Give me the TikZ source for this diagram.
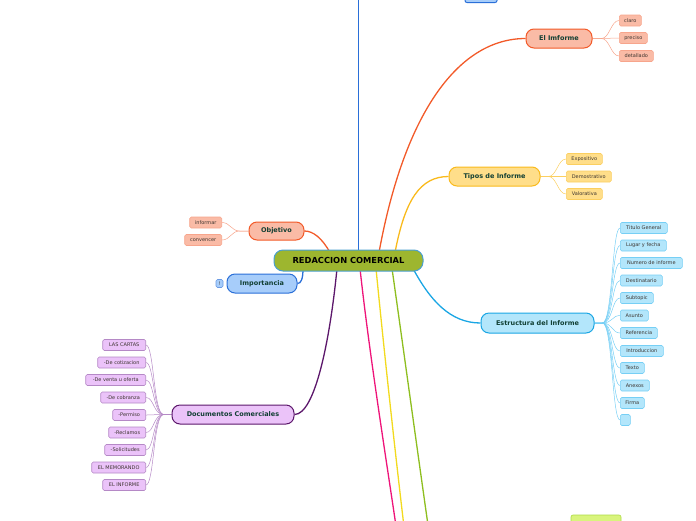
\documentclass[tikz,border=0pt]{standalone}
\usepackage{fontspec}
\setmainfont{DejaVu Sans}
\usetikzlibrary{backgrounds,calc}
\definecolor{rootfill}{HTML}{9DB62F}
\definecolor{rootline}{HTML}{4A9FCF}
\definecolor{txtgreen}{HTML}{113F33}
\definecolor{leaftxt}{HTML}{3D3530}
\definecolor{orline}{HTML}{F25A29}
\definecolor{orfill}{HTML}{FABBA6}
\definecolor{orleaf}{HTML}{F7A58C}
\definecolor{yeline}{HTML}{F9BA1C}
\definecolor{yefill}{HTML}{FFDE8A}
\definecolor{yeleaf}{HTML}{FBCF60}
\definecolor{cyline}{HTML}{1AA6E4}
\definecolor{cyfill}{HTML}{B3E6FB}
\definecolor{cyleaf}{HTML}{76CFF5}
\definecolor{puline}{HTML}{5C176B}
\definecolor{pufill}{HTML}{EBC3F9}
\definecolor{puleaf}{HTML}{B589C6}
\definecolor{blline}{HTML}{2A6FD8}
\definecolor{blfill}{HTML}{A7CDFA}
\definecolor{grline}{HTML}{8EBE1F}
\definecolor{pkline}{HTML}{EE1479}
\definecolor{yetwo}{HTML}{F2DA1E}
\definecolor{grfill}{HTML}{D9F47D}
\definecolor{grleaf}{HTML}{AEDB45}
\begin{document}
\begin{tikzpicture}[x=1pt,y=-1pt,
  rootbox/.style={draw=rootline, fill=rootfill, line width=1pt, rounded corners=9pt, inner sep=0pt, minimum height=21pt, font=\fontsize{8.3}{9}\selectfont\bfseries},
  topicbox/.style={line width=1pt, rounded corners=8pt, inner sep=0pt, minimum height=19pt, text=txtgreen, font=\fontsize{6.5}{7}\selectfont\bfseries},
  leafbox/.style={line width=0.6pt, rounded corners=1.5pt, inner sep=0pt, minimum height=11pt, text=leaftxt, font=\fontsize{5}{5.5}\selectfont},
  branch/.style={line width=1.3pt},
  twig/.style={line width=0.5pt}]
\useasboundingbox (0,0) rectangle (696,520);
\clip (0,0) rectangle (696,520);
% centre
\node[rootbox, minimum width=149pt] (root) at (348.5,260.5) {REDACCION COMERCIAL};
% main topics
\node[topicbox, draw=orline, fill=orfill, minimum width=66pt] (imforme) at (559,38.5) {El Imforme};
\node[topicbox, draw=yeline, fill=yefill, minimum width=91pt] (tipos) at (494.5,176.5) {Tipos de Informe};
\node[topicbox, draw=cyline, fill=cyfill, minimum width=113pt, minimum height=20pt] (estructura) at (537.5,323) {Estructura del Informe};
\node[topicbox, draw=orline, fill=orfill, minimum width=55pt, minimum height=18pt] (objetivo) at (276.5,231) {Objetivo};
\node[topicbox, draw=blline, fill=blfill, minimum width=70pt] (importancia) at (262,283.5) {Importancia};
\node[topicbox, draw=puline, fill=pufill, minimum width=122pt] (documentos) at (233,414.5) {Documentos Comerciales};
\node[topicbox, draw=blline, fill=blfill, minimum width=32pt, minimum height=15pt, rounded corners=2pt] (arriba) at (481,-5) {};
\node[leafbox, draw=grleaf, fill=grfill, minimum width=50pt, minimum height=14pt, rounded corners=2pt] (abajo) at (596,522) {};
% El Imforme
\node[leafbox, draw=orleaf, fill=orfill, anchor=west, minimum width=22pt] (claro) at (619,20.5) {claro};
\node[leafbox, draw=orleaf, fill=orfill, anchor=west, minimum width=28pt] (preciso) at (619,38) {preciso};
\node[leafbox, draw=orleaf, fill=orfill, anchor=west, minimum width=34pt] (detallado) at (619,56) {detallado};
% Tipos de Informe
\node[leafbox, draw=yeleaf, fill=yefill, anchor=west, minimum width=36pt] (expositivo) at (566,159) {Expositivo};
\node[leafbox, draw=yeleaf, fill=yefill, anchor=west, minimum width=45pt] (demostrativo) at (566,176.5) {Demostrativo};
\node[leafbox, draw=yeleaf, fill=yefill, anchor=west, minimum width=36pt] (valorativa) at (566,194) {Valorativa};
% Estructura del Informe
\node[leafbox, draw=cyleaf, fill=cyfill, anchor=west, minimum width=47pt] (e1) at (620,228) {Titulo General};
\node[leafbox, draw=cyleaf, fill=cyfill, anchor=west, minimum width=46pt] (e2) at (620,245.5) {Lugar y fecha};
\node[leafbox, draw=cyleaf, fill=cyfill, anchor=west, minimum width=62pt] (e3) at (620,263) {Numero de informe};
\node[leafbox, draw=cyleaf, fill=cyfill, anchor=west, minimum width=42pt] (e4) at (620,280.5) {Destinatario};
\node[leafbox, draw=cyleaf, fill=cyfill, anchor=west, minimum width=33pt] (e5) at (620,298) {Subtopic};
\node[leafbox, draw=cyleaf, fill=cyfill, anchor=west, minimum width=28pt] (e6) at (620,315.5) {Asunto};
\node[leafbox, draw=cyleaf, fill=cyfill, anchor=west, minimum width=37pt] (e7) at (620,333) {Referencia};
\node[leafbox, draw=cyleaf, fill=cyfill, anchor=west, minimum width=43pt] (e8) at (620,351) {Introduccion};
\node[leafbox, draw=cyleaf, fill=cyfill, anchor=west, minimum width=24pt] (e9) at (620,368) {Texto};
\node[leafbox, draw=cyleaf, fill=cyfill, anchor=west, minimum width=29pt] (e10) at (620,385.5) {Anexos};
\node[leafbox, draw=cyleaf, fill=cyfill, anchor=west, minimum width=24pt] (e11) at (620,403) {Firma};
\node[leafbox, draw=cyleaf, fill=cyfill, anchor=west, minimum width=10pt] (e12) at (620,420) {};
% Objetivo
\node[leafbox, draw=orleaf, fill=orfill, anchor=east, minimum width=32pt] (informar) at (222,222.5) {informar};
\node[leafbox, draw=orleaf, fill=orfill, anchor=east, minimum width=37pt] (convencer) at (222,240) {convencer};
% Importancia
\node[leafbox, draw=blline!70, fill=blfill, minimum width=7pt, minimum height=8pt] (nota) at (219.5,283.5) {!};
% Documentos Comerciales
\node[leafbox, draw=puleaf, fill=pufill, anchor=east, minimum width=43pt] (d1) at (146,345) {LAS CARTAS};
\node[leafbox, draw=puleaf, fill=pufill, anchor=east, minimum width=48pt] (d2) at (146,362.5) {-De cotizacion};
\node[leafbox, draw=puleaf, fill=pufill, anchor=east, minimum width=60pt] (d3) at (146,380) {-De venta u oferta};
\node[leafbox, draw=puleaf, fill=pufill, anchor=east, minimum width=45pt] (d4) at (146,397.5) {-De cobranza};
\node[leafbox, draw=puleaf, fill=pufill, anchor=east, minimum width=33pt] (d5) at (146,415) {-Permiso};
\node[leafbox, draw=puleaf, fill=pufill, anchor=east, minimum width=37pt] (d6) at (146,432.5) {-Reclamos};
\node[leafbox, draw=puleaf, fill=pufill, anchor=east, minimum width=41pt] (d7) at (146,450) {-Solicitudes};
\node[leafbox, draw=puleaf, fill=pufill, anchor=east, minimum width=54pt] (d8) at (146,467.5) {EL MEMORANDO};
\node[leafbox, draw=puleaf, fill=pufill, anchor=east, minimum width=43pt] (d9) at (146,485) {EL INFORME};
% loose ends beyond the page
\coordinate (azul) at (358.5,-40);
\coordinate (rosa) at (401,560);
\coordinate (amarillo) at (408,560);
\coordinate (verde) at (433,560);
\begin{pgfonlayer}{background}
% branches from the centre
\draw[branch, blline] ($(root.center)+(10,-8)$) -- (azul);
\draw[branch, orline] ($(root.center)+(30.5,-8)$) .. controls (405,110) and (460,38.5) .. (imforme.west);
\draw[branch, yeline] ($(root.center)+(46.5,-8)$) .. controls (405,200) and (420,176.5) .. (tipos.west);
\draw[branch, cyline] ($(root.center)+(64.5,8)$) .. controls (430,300) and (450,323) .. (estructura.west);
\draw[branch, grline] ($(root.center)+(43.5,8)$) .. controls (405,360) and (420,470) .. (verde);
\draw[branch, yetwo] ($(root.center)+(27.5,8)$) .. controls (385,360) and (397,470) .. (amarillo);
\draw[branch, pkline] ($(root.center)+(11.5,8)$) .. controls (370,360) and (388,470) .. (rosa);
\draw[branch, puline] ($(root.center)+(-11.5,8)$) .. controls (330,340) and (315,414.5) .. (documentos.east);
\draw[branch, blline] ($(root.center)+(-45.5,8)$) .. controls (303,279) and (301,283.5) .. (importancia.east);
\draw[branch, orline] ($(root.center)+(-18.5,-8)$) .. controls (322,238) and (313,231) .. (objetivo.east);
% twigs
\draw[twig, orleaf] (imforme.east) -- ++(9,0) .. controls +(8,0) and +(-8,0) .. (claro.west);
\draw[twig, orleaf] (imforme.east) -- ++(9,0) .. controls +(8,0) and +(-8,0) .. (preciso.west);
\draw[twig, orleaf] (imforme.east) -- ++(9,0) .. controls +(8,0) and +(-8,0) .. (detallado.west);
\draw[twig, yeleaf] (tipos.east) -- ++(8,0) .. controls +(8,0) and +(-8,0) .. (expositivo.west);
\draw[twig, yeleaf] (tipos.east) -- ++(8,0) .. controls +(8,0) and +(-8,0) .. (demostrativo.west);
\draw[twig, yeleaf] (tipos.east) -- ++(8,0) .. controls +(8,0) and +(-8,0) .. (valorativa.west);
\draw[twig, cyleaf] (estructura.east) -- ++(8,0) .. controls +(10,0) and +(-8,0) .. (e1.west);
\draw[twig, cyleaf] (estructura.east) -- ++(8,0) .. controls +(10,0) and +(-8,0) .. (e2.west);
\draw[twig, cyleaf] (estructura.east) -- ++(8,0) .. controls +(10,0) and +(-8,0) .. (e3.west);
\draw[twig, cyleaf] (estructura.east) -- ++(8,0) .. controls +(10,0) and +(-8,0) .. (e4.west);
\draw[twig, cyleaf] (estructura.east) -- ++(8,0) .. controls +(10,0) and +(-8,0) .. (e5.west);
\draw[twig, cyleaf] (estructura.east) -- ++(8,0) .. controls +(10,0) and +(-8,0) .. (e6.west);
\draw[twig, cyleaf] (estructura.east) -- ++(8,0) .. controls +(10,0) and +(-8,0) .. (e7.west);
\draw[twig, cyleaf] (estructura.east) -- ++(8,0) .. controls +(10,0) and +(-8,0) .. (e8.west);
\draw[twig, cyleaf] (estructura.east) -- ++(8,0) .. controls +(10,0) and +(-8,0) .. (e9.west);
\draw[twig, cyleaf] (estructura.east) -- ++(8,0) .. controls +(10,0) and +(-8,0) .. (e10.west);
\draw[twig, cyleaf] (estructura.east) -- ++(8,0) .. controls +(10,0) and +(-8,0) .. (e11.west);
\draw[twig, cyleaf] (estructura.east) -- ++(8,0) .. controls +(10,0) and +(-8,0) .. (e12.west);
\draw[twig, orleaf] (objetivo.west) -- ++(-9,0) .. controls +(-8,0) and +(8,0) .. (informar.east);
\draw[twig, orleaf] (objetivo.west) -- ++(-9,0) .. controls +(-8,0) and +(8,0) .. (convencer.east);
\draw[twig, puleaf] (documentos.west) -- ++(-8,0) .. controls +(-10,0) and +(8,0) .. (d1.east);
\draw[twig, puleaf] (documentos.west) -- ++(-8,0) .. controls +(-10,0) and +(8,0) .. (d2.east);
\draw[twig, puleaf] (documentos.west) -- ++(-8,0) .. controls +(-10,0) and +(8,0) .. (d3.east);
\draw[twig, puleaf] (documentos.west) -- ++(-8,0) .. controls +(-10,0) and +(8,0) .. (d4.east);
\draw[twig, puleaf] (documentos.west) -- ++(-8,0) .. controls +(-10,0) and +(8,0) .. (d5.east);
\draw[twig, puleaf] (documentos.west) -- ++(-8,0) .. controls +(-10,0) and +(8,0) .. (d6.east);
\draw[twig, puleaf] (documentos.west) -- ++(-8,0) .. controls +(-10,0) and +(8,0) .. (d7.east);
\draw[twig, puleaf] (documentos.west) -- ++(-8,0) .. controls +(-10,0) and +(8,0) .. (d8.east);
\draw[twig, puleaf] (documentos.west) -- ++(-8,0) .. controls +(-10,0) and +(8,0) .. (d9.east);
\end{pgfonlayer}
\end{tikzpicture}
\end{document}
